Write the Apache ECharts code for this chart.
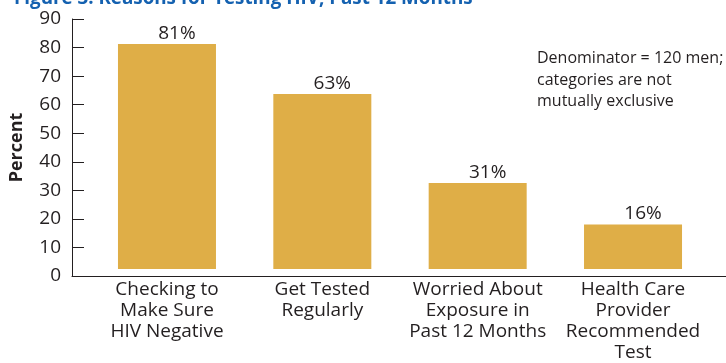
<!DOCTYPE html>
<html>
<head>
<meta charset="utf-8">
<script src="https://cdn.jsdelivr.net/npm/echarts@6/dist/echarts.min.js"></script>
<style>
html,body{margin:0;padding:0;background:#fff;}
#c{width:726px;height:363px;}
</style>
</head>
<body>
<div id="c"></div>
<script>
const titleText = 'Figure 3. Reasons for Testing HIV, Past 12 Months';
const noteText = 'Denominator = 120 men;\ncategories are not\nmutually exclusive';
const categories = ['Checking to\nMake Sure\nHIV Negative', 'Get Tested\nRegularly', 'Worried About\nExposure in\nPast 12 Months', 'Health Care\nProvider\nRecommended\nTest'];
const values = [81, 63, 31, 16];
const yMin = 0, yMax = 90, yStep = 10;
const yName = 'Percent';

const FONT = '"Open Sans"';
const TXT = '#231f20';
const chart = echarts.init(document.getElementById('c'), null, {renderer: 'canvas'});
chart.setOption({
  animation: false,
  textStyle: {fontFamily: FONT},
  title: [
    {text: titleText, left: 9, top: -15.5, textStyle: {fontFamily: FONT, fontSize: 18.8, fontWeight: 'bold', color: '#1461b0'}},
    {text: noteText, left: 532, top: 43, textStyle: {fontFamily: FONT, fontSize: 16, fontWeight: 'normal', color: TXT, lineHeight: 21.5}}
  ],
  grid: [
    {left: 89.3, right: 15.3, top: 19, bottom: 87},
    {left: 69, right: 0, top: 19, bottom: 87}
  ],
  xAxis: [
    {type: 'category', gridIndex: 0, data: categories,
     axisLine: {show: false}, axisTick: {show: false},
     axisLabel: {interval: 0, margin: 10, fontSize: 19, lineHeight: 21, color: TXT, fontFamily: FONT}},
    {type: 'value', gridIndex: 1, min: 0, max: 1,
     axisLine: {show: true, lineStyle: {color: '#231f20', width: 1}},
     axisTick: {show: false}, axisLabel: {show: false}, splitLine: {show: false}}
  ],
  yAxis: [
    {type: 'value', gridIndex: 0, min: yMin, max: yMax, interval: yStep, show: false},
    {type: 'value', gridIndex: 1, min: yMin, max: yMax, interval: yStep,
     name: yName, nameLocation: 'middle', nameGap: 46,
     nameTextStyle: {fontFamily: FONT, fontSize: 18, fontWeight: 'bold', color: TXT},
     axisLine: {show: true, lineStyle: {color: '#231f20', width: 1}},
     axisTick: {show: true, inside: true, length: 12, lineStyle: {color: '#231f20'}},
     axisLabel: {fontSize: 19, color: TXT, margin: 11, fontFamily: FONT},
     splitLine: {show: false}}
  ],
  series: [{
    type: 'bar', xAxisIndex: 0, yAxisIndex: 0, data: values, barWidth: 98,
    itemStyle: {color: '#dfae47'},
    label: {show: true, position: 'top', distance: 1, offset: [10, 0], formatter: '{c}%', fontSize: 19, color: TXT, fontFamily: FONT}
  }]
});
</script>
</body>
</html>
